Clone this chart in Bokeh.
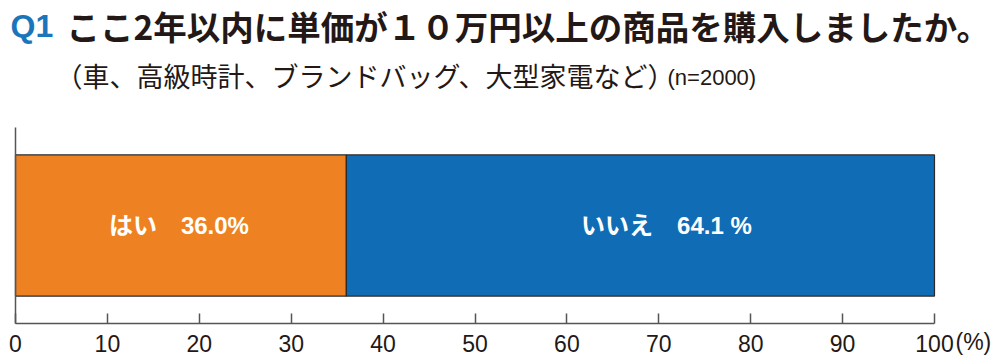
from bokeh.plotting import figure
from bokeh.models import Range1d, FixedTicker, Label, ColumnDataSource
from bokeh.core.properties import value
from bokeh.embed import file_html
from bokeh.resources import INLINE

# ---- data ----
answers = ["はい", "いいえ"]
percents = [36.0, 64.1]
value_labels = ["36.0%", "64.1 %"]
colors = ["#EE8223", "#106CB4"]
x_ticks = [0, 10, 20, 30, 40, 50, 60, 70, 80, 90, 100]

q_number = "Q1"
title_text = "ここ2年以内に単価が１０万円以上の商品を購入しましたか。"
subtitle_text = "（車、高級時計、ブランドバッグ、大型家電など）"
n_text = "(n=2000)"
unit_text = "(%)"

# stacked bar extents
lefts, rights = [], []
acc = 0.0
for v in percents:
    lefts.append(acc)
    acc += v
    rights.append(min(acc, 100.0))
centers = [(l + r) / 2 for l, r in zip(lefts, rights)]
texts = [a + "　" + b for a, b in zip(answers, value_labels)]
label_offsets = [-2, 26]

src = ColumnDataSource(dict(left=lefts, right=rights, color=colors,
                            cx=centers, txt=texts, off=label_offsets,
                            y=[0.5] * len(percents)))

W, H = 1000, 359
INK = "#231815"

# layout geometry (pixels in the canvas)
AX_X0, AX_X1 = 15, 934      # where 0 and 100 land
AX_Y0, AX_Y1 = 323, 127     # where 0 and 1 land (y axis values)
sx = (AX_X1 - AX_X0) / 100.0
sy = (AX_Y0 - AX_Y1) / 1.0
x_range = Range1d(-AX_X0 / sx, (W - AX_X0) / sx)
y_range = Range1d(-(H - AX_Y0) / sy, AX_Y0 / sy)

p = figure(width=W, height=H, output_backend="svg", toolbar_location=None,
           x_range=x_range, y_range=y_range,
           min_border=0, min_border_left=0, min_border_right=0,
           min_border_top=0, min_border_bottom=0)
p.outline_line_color = None
p.xgrid.visible = False
p.ygrid.visible = False

p.hbar(y="y", height=0.72, left="left", right="right", fill_color="color",
       line_color="#2a2a2a", line_width=1.2, source=src)

p.text(x="cx", y="y", text="txt", x_offset="off", source=src,
       text_color="white", text_font=value("'Liberation Sans', 'Noto Sans CJK JP'"),
       text_font_style="bold", text_font_size="24px",
       text_align="center", text_baseline="middle")

xa = p.xaxis[0]
xa.fixed_location = 0
xa.bounds = (0, 100)
xa.ticker = FixedTicker(ticks=x_ticks)
xa.minor_tick_line_color = None
xa.major_tick_in = 10
xa.major_tick_out = 0
xa.axis_line_color = "#555555"
xa.axis_line_width = 1.5
xa.major_tick_line_color = "#555555"
xa.major_tick_line_width = 1.5
xa.major_label_text_font = "Liberation Sans"
xa.major_label_text_font_size = "23px"
xa.major_label_text_color = INK
xa.major_label_standoff = 11

ya = p.yaxis[0]
ya.fixed_location = 0
ya.bounds = (0, 1)
ya.ticker = FixedTicker(ticks=[])
ya.minor_tick_line_color = None
ya.major_tick_in = 0
ya.major_tick_out = 0
ya.major_label_text_font_size = "0px"
ya.major_label_standoff = 0
ya.axis_line_color = "#555555"
ya.axis_line_width = 1.5


def lab(txt, x, y, size, color=INK, font="Noto Sans CJK JP", style="normal"):
    # x, y: pixels from the canvas top-left
    p.add_layout(Label(x=x, y=H - y, x_units="screen", y_units="screen",
                       text=txt, text_font=font, text_font_size=size,
                       text_font_style=style, text_color=color,
                       text_baseline="middle", text_align="left"))


lab(q_number, 10, 25, "32px", color="#1B75BB", font="Liberation Sans", style="bold")
lab(title_text, 66, 25, "33.5px", style="bold")
lab(subtitle_text, 55, 75, "27px")
lab(n_text, 667, 77, "22px", font="Liberation Sans")
lab(unit_text, 955, 341, "23px", font="Liberation Sans")

open("out.html", "w").write(file_html(p, INLINE))
